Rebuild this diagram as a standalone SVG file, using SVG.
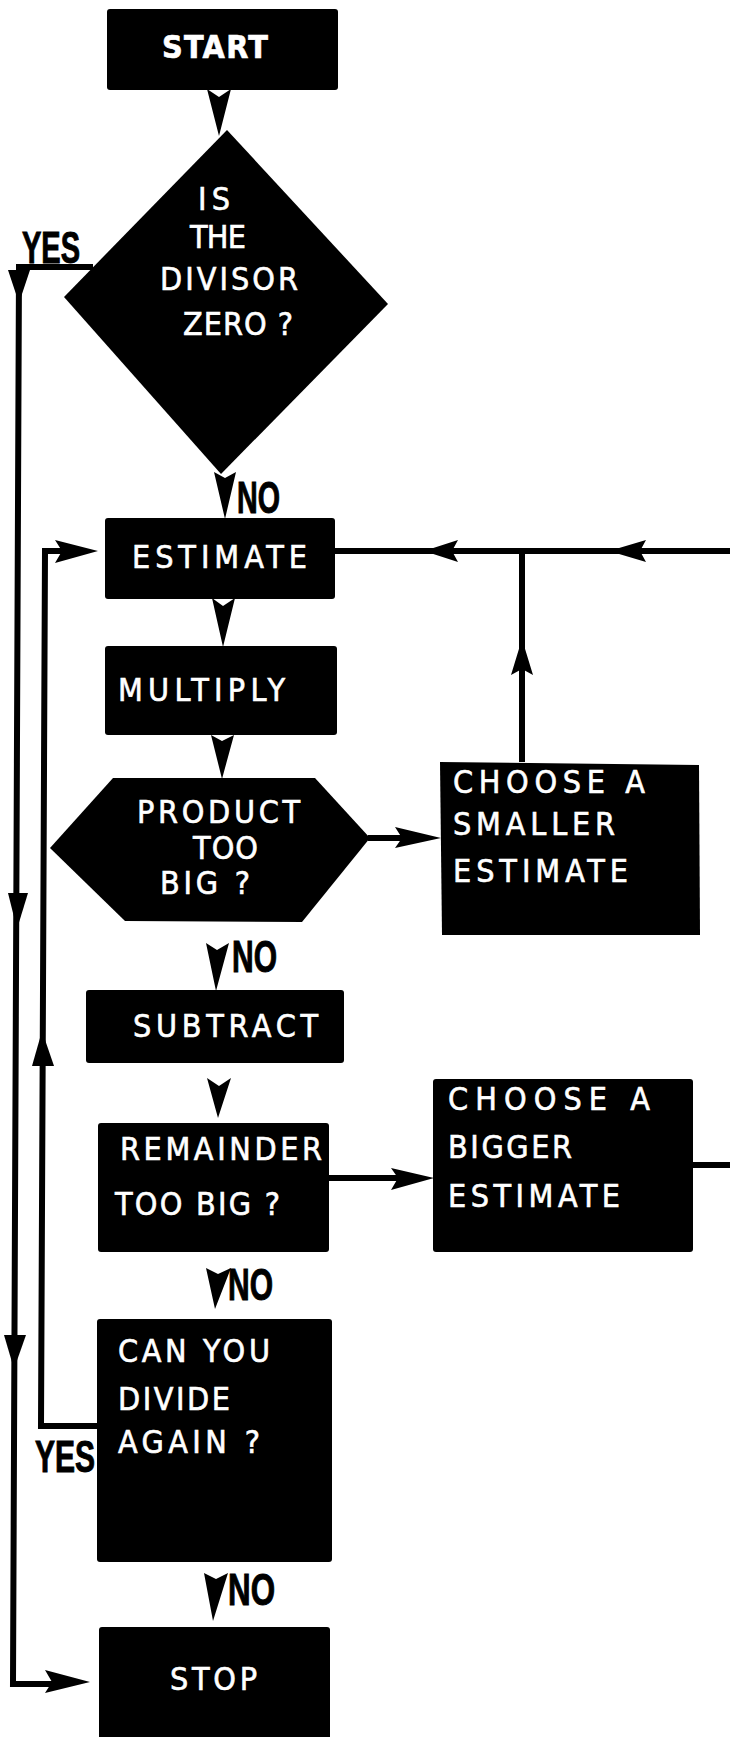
<svg xmlns="http://www.w3.org/2000/svg" width="730" height="1737" viewBox="0 0 730 1737">
<style>
.box{fill:#000}
.ln{fill:none;stroke:#000;stroke-width:6;stroke-linejoin:miter;stroke-linecap:butt}
.ah{fill:#000}
.t{font-family:"Liberation Sans Narrow","DejaVu Sans Condensed","Liberation Sans",sans-serif;font-size:32px;fill:#fff;stroke:#fff;stroke-width:0.6}
.lab{font-family:"Liberation Sans Narrow","Liberation Sans",sans-serif;font-weight:bold;font-size:44px;fill:#000;stroke:#000;stroke-width:1}
</style>
<rect width="730" height="1737" fill="#fff"/>

<g id="connectors">
  <!-- YES branch from divisor diamond down outer line to STOP -->
  <polyline class="ln" points="93,267 19,267 13,1684 62,1684" stroke-width="5"/>
  <polygon class="ah" points="8,270 30,270 19,303"/>
  <polygon class="ah" points="8,893 28,893 17,929"/>
  <polygon class="ah" points="4,1335 26,1335 14,1369"/>
  <polygon class="ah" points="45,1670 90,1682 45,1693 52,1682"/>
  <!-- YES loop from CAN YOU DIVIDE AGAIN back to ESTIMATE -->
  <polyline class="ln" points="97,1426 41,1426 45,551 62,551"/>
  <polygon class="ah" points="32,1066 54,1066 42,1031"/>
  <polygon class="ah" points="55,540 98,551 55,563 62,551"/>
  <!-- vertical flow arrows -->
  <polygon class="ah" points="207,89 219,97 231,89 219,136"/>
  <polygon class="ah" points="214,472 225,478 236,472 225,519"/>
  <polygon class="ah" points="212,598 223,606 235,598 223,647"/>
  <polygon class="ah" points="211,735 222,741 234,735 222,779"/>
  <polygon class="ah" points="206,943 217,950 229,943 216,991"/>
  <polygon class="ah" points="207,1078 219,1086 231,1078 218,1118"/>
  <polygon class="ah" points="206,1268 218,1274 231,1268 215,1309"/>
  <polygon class="ah" points="204,1573 216,1579 228,1573 213,1621"/>
  <!-- ESTIMATE return line from right -->
  <line class="ln" x1="335" y1="551" x2="730" y2="551" stroke-width="7"/>
  <polygon class="ah" points="424,551 458,540 452,551 458,562"/>
  <polygon class="ah" points="609,551 646,540 640,551 646,562"/>
  <line class="ln" x1="522" y1="762" x2="522" y2="551" stroke-width="7"/>
  <polygon class="ah" points="522,639 533,675 522,669 511,675"/>
  <!-- PRODUCT TOO BIG -> CHOOSE SMALLER -->
  <line class="ln" x1="368" y1="838" x2="410" y2="838" stroke-width="6"/>
  <polygon class="ah" points="395,827 441,838 395,848 402,838"/>
  <!-- REMAINDER TOO BIG -> CHOOSE BIGGER -->
  <line class="ln" x1="329" y1="1178" x2="400" y2="1178" stroke-width="7"/>
  <polygon class="ah" points="391,1168 434,1178 391,1190 398,1178"/>
  <line class="ln" x1="692" y1="1165" x2="730" y2="1165" stroke-width="7"/>
</g>

<g id="start">
  <rect class="box" x="107" y="9" width="231" height="81" rx="3"/>
  <text class="t" x="162" y="58" font-weight="bold" font-size="30" textLength="106" lengthAdjust="spacing">START</text>
</g>

<g id="divisor-zero">
  <polygon class="box" points="227,130 388,304 221,474 64,297"/>
  <text class="t" x="198" y="210" font-size="28" textLength="32" lengthAdjust="spacing">IS</text>
  <text class="t" x="190" y="248" font-size="28" textLength="56" lengthAdjust="spacing">THE</text>
  <text class="t" x="160" y="290" textLength="138" lengthAdjust="spacing">DIVISOR</text>
  <text class="t" x="183" y="335" textLength="110" lengthAdjust="spacing">ZERO ?</text>
</g>

<g id="estimate">
  <rect class="box" x="105" y="518" width="230" height="81" rx="3"/>
  <text class="t" x="132" y="568" textLength="175" lengthAdjust="spacing">ESTIMATE</text>
</g>

<g id="multiply">
  <rect class="box" x="105" y="646" width="232" height="89" rx="3"/>
  <text class="t" x="118" y="701" textLength="167" lengthAdjust="spacing">MULTIPLY</text>
</g>

<g id="product-too-big">
  <polygon class="box" points="50,848 113,778 315,778 370,838 302,922 125,921"/>
  <text class="t" x="137" y="823" textLength="163" lengthAdjust="spacing">PRODUCT</text>
  <text class="t" x="193" y="859" textLength="65" lengthAdjust="spacing">TOO</text>
  <text class="t" x="160" y="894" textLength="90" lengthAdjust="spacing">BIG ?</text>
</g>

<g id="choose-smaller">
  <polygon class="box" points="440,762 699,765 700,935 442,935"/>
  <text class="t" x="453" y="793" textLength="192" lengthAdjust="spacing">CHOOSE  A</text>
  <text class="t" x="453" y="835" textLength="162" lengthAdjust="spacing">SMALLER</text>
  <text class="t" x="453" y="882" textLength="175" lengthAdjust="spacing">ESTIMATE</text>
</g>

<g id="subtract">
  <rect class="box" x="86" y="990" width="258" height="73" rx="3"/>
  <text class="t" x="133" y="1037" textLength="185" lengthAdjust="spacing">SUBTRACT</text>
</g>

<g id="remainder-too-big">
  <rect class="box" x="98" y="1123" width="231" height="129" rx="3"/>
  <text class="t" x="120" y="1160" textLength="202" lengthAdjust="spacing">REMAINDER</text>
  <text class="t" x="115" y="1215" textLength="165" lengthAdjust="spacing">TOO BIG ?</text>
</g>

<g id="choose-bigger">
  <rect class="box" x="433" y="1079" width="260" height="173" rx="3"/>
  <text class="t" x="448" y="1110" textLength="202" lengthAdjust="spacing">CHOOSE   A</text>
  <text class="t" x="448" y="1158" textLength="124" lengthAdjust="spacing">BIGGER</text>
  <text class="t" x="448" y="1207" textLength="172" lengthAdjust="spacing">ESTIMATE</text>
</g>

<g id="divide-again">
  <rect class="box" x="97" y="1319" width="235" height="243" rx="3"/>
  <text class="t" x="118" y="1362" textLength="152" lengthAdjust="spacing">CAN YOU</text>
  <text class="t" x="118" y="1410" textLength="112" lengthAdjust="spacing">DIVIDE</text>
  <text class="t" x="118" y="1453" textLength="142" lengthAdjust="spacing">AGAIN ?</text>
</g>

<g id="stop">
  <rect class="box" x="99" y="1627" width="231" height="115" rx="3"/>
  <text class="t" x="170" y="1690" font-size="29" textLength="87" lengthAdjust="spacing">STOP</text>
</g>

<g id="labels">
  <text class="lab" x="22" y="263" font-size="39" textLength="58" lengthAdjust="spacingAndGlyphs">YES</text>
  <text class="lab" x="237" y="513" font-size="45" textLength="43" lengthAdjust="spacingAndGlyphs">NO</text>
  <text class="lab" x="232" y="972" font-size="42" textLength="45" lengthAdjust="spacingAndGlyphs">NO</text>
  <text class="lab" x="228" y="1300" font-size="44" textLength="45" lengthAdjust="spacingAndGlyphs">NO</text>
  <text class="lab" x="35" y="1472" font-size="44" textLength="60" lengthAdjust="spacingAndGlyphs">YES</text>
  <text class="lab" x="228" y="1605" font-size="44" textLength="47" lengthAdjust="spacingAndGlyphs">NO</text>
</g>
</svg>
